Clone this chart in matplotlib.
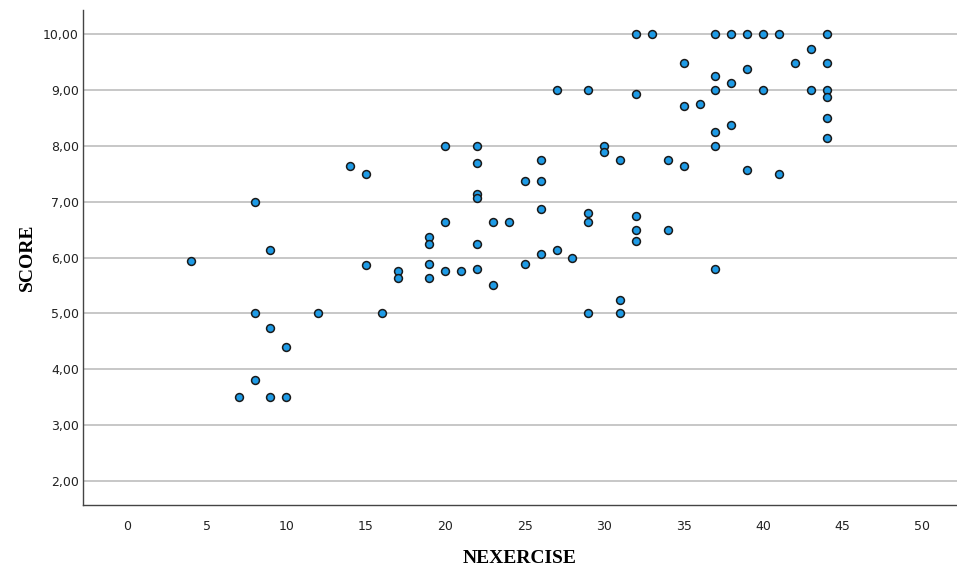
import matplotlib
matplotlib.use("Agg")
import matplotlib.pyplot as plt

nexercise = [4, 7, 8, 8, 8, 9, 9, 9, 10, 10, 12, 14, 15, 15, 16, 17, 17,
             19, 19, 19, 19, 20, 20, 20, 21, 22, 22, 22, 22, 22, 22, 23, 23,
             24, 25, 25, 26, 26, 26, 26, 27, 27, 28, 29, 29, 29, 29, 30, 30,
             31, 31, 31, 32, 32, 32, 32, 32, 33, 34, 34, 35, 35, 35, 36,
             37, 37, 37, 37, 37, 37, 38, 38, 38, 39, 39, 39, 40, 40, 41, 41,
             42, 43, 43, 44, 44, 44, 44, 44, 44]
score = [5.93, 3.5, 7.0, 5.0, 3.8, 6.14, 4.74, 3.5, 4.39, 3.5, 5.0, 7.64, 7.5, 5.86, 5.0, 5.75, 5.64,
         6.37, 6.24, 5.88, 5.63, 8.0, 6.63, 5.75, 5.75, 8.0, 7.7, 7.14, 7.06, 6.24, 5.79, 6.63, 5.5,
         6.64, 7.37, 5.88, 7.75, 7.37, 6.87, 6.06, 9.0, 6.13, 6.0, 9.0, 6.79, 6.63, 5.0, 8.0, 7.88,
         7.75, 5.24, 5.0, 10.0, 8.93, 6.75, 6.49, 6.29, 10.0, 7.75, 6.5, 9.49, 8.71, 7.63, 8.74,
         10.0, 9.24, 9.0, 8.24, 8.0, 5.79, 10.0, 9.13, 8.38, 10.0, 9.37, 7.57, 10.0, 9.0, 10.0, 7.5,
         9.49, 9.74, 9.0, 10.0, 9.49, 9.0, 8.87, 8.5, 8.14]

x_ticks = [0, 5, 10, 15, 20, 25, 30, 35, 40, 45, 50]
y_ticks = [2, 3, 4, 5, 6, 7, 8, 9, 10]
y_tick_labels = ["2,00", "3,00", "4,00", "5,00", "6,00", "7,00", "8,00", "9,00", "10,00"]

fig = plt.figure(figsize=(9.57, 5.67), dpi=100)
ax = fig.add_axes([0.0867, 0.1093, 0.9133, 0.8731])

ax.set_axisbelow(True)
ax.yaxis.grid(True, color="#bdbdbd", linewidth=1.2)
ax.xaxis.grid(False)

ax.scatter(nexercise, score, s=32, facecolor="#1e9be6", edgecolor="#1a1a1a",
           linewidth=1.1, zorder=3)

ax.set_xlim(-2.8, 52.2)
ax.set_ylim(1.57, 10.43)
ax.set_xticks(x_ticks)
ax.set_xticklabels([str(v) for v in x_ticks])
ax.set_yticks(y_ticks)
ax.set_yticklabels(y_tick_labels)
ax.tick_params(axis="both", length=0, labelsize=9, colors="#222222")
ax.tick_params(axis="x", pad=11)
ax.tick_params(axis="y", pad=3)

for side in ["top", "right"]:
    ax.spines[side].set_visible(False)
for side in ["left", "bottom"]:
    ax.spines[side].set_color("#444444")
    ax.spines[side].set_linewidth(1.0)

ax.set_xlabel("NEXERCISE", fontfamily="Liberation Serif", fontweight="bold",
              fontsize=14, labelpad=12)
ax.set_ylabel("SCORE", fontfamily="Liberation Serif", fontweight="bold",
              fontsize=14, labelpad=5)

fig.savefig("out.png", dpi=100)
